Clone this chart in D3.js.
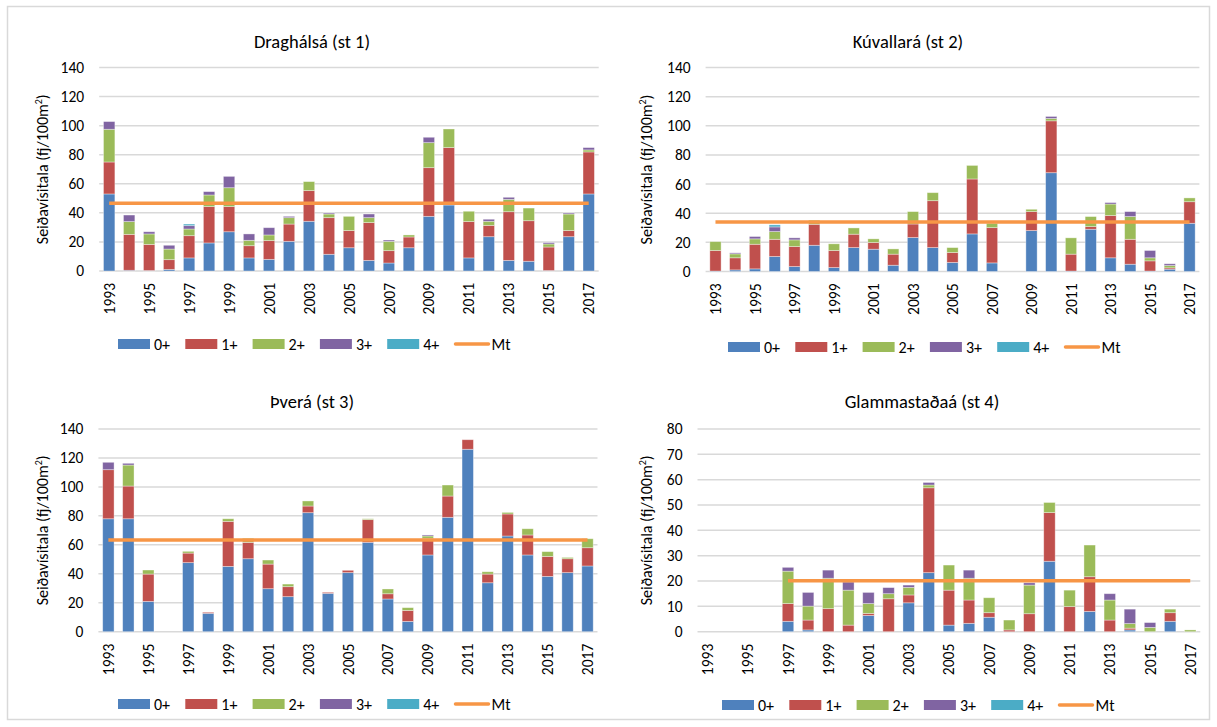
<!DOCTYPE html>
<html><head><meta charset="utf-8">
<script src="https://cdn.jsdelivr.net/npm/d3@7"></script>
<style>
body{margin:0;background:#fff}
svg{display:block}
text{font-family:Carlito, Lato, sans-serif;fill:#000;font-weight:400}
</style>
</head><body>
<svg id="c" width="1217" height="727"></svg>
<script>
// ---------- DATA ----------
const years = ["1993","1994","1995","1996","1997","1998","1999","2000","2001","2002","2003","2004","2005","2006","2007","2008","2009","2010","2011","2012","2013","2014","2015","2016","2017"];
const tickYears = ["1993","1995","1997","1999","2001","2003","2005","2007","2009","2011","2013","2015","2017"];
const ageClasses = ["0+","1+","2+","3+","4+"];
const mtName = "Mt";

// Station 1: Draghálsá
const st1_a0 = [53,0.5,0.3,1.1,9,19.3,27,9,8,20.4,34.2,11.5,16,7.3,5.5,16,37.6,45.4,9,23.6,7.3,6.7,0.3,23.6,53];
const st1_a1 = [22,24.7,18,6.7,15.3,25,17.3,8.4,12.9,11.9,21.1,25.2,11.8,26,8.5,7.4,33.5,39.5,25,7.8,33.5,27.9,16.2,4.2,28.9];
const st1_a2 = [22.5,8.8,7.2,7.3,4.6,8,13,3.7,3.9,4.4,6.2,2.5,9.8,3.4,6.4,1.4,17.2,12.8,7.1,2.8,8.5,8.7,2.1,11.4,1.4];
const st1_a3 = [5.3,4.5,1.5,2.6,2.3,2.3,7.8,4.4,5,0.9,0,0.7,0,2.5,0.9,0,3.7,0,0,1.4,1.4,0,0.9,0.7,1.6];
const st1_a4 = [0,0,0,0,1.1,0,0,0,0,0,0,0,0,0,0,0,0,0,0,0,0,0,0,0,0];
const st1_mt = [46.6,46.6,46.6,46.6,46.6,46.6,46.6,46.6,46.6,46.6,46.6,46.6,46.6,46.6,46.6,46.6,46.6,46.6,46.6,46.6,46.6,46.6,46.6,46.6,46.6];

// Station 2: Kúvallará
const st2_a0 = [0.3,1.1,1.8,10.3,3.4,18,2.7,16.4,15.3,4.3,23.3,16.4,6.2,25.8,5.9,null,28.1,67.8,0.3,29,9.4,5,0.3,1.6,33.1];
const st2_a1 = [14.1,8.3,16.9,11.8,13.7,14.4,11.7,9.2,4.6,7.6,9.3,32.2,6.8,37.7,24.2,null,13,35.6,11.6,1.8,29,17.1,7,0.9,14.8];
const st2_a2 = [6.1,2.7,3.7,5.3,4.6,2.8,4.6,4.3,2.5,3.6,8.5,5.5,3.4,9.3,3,null,1.6,1.6,11.2,6.9,7.9,15.6,2.1,1.6,2.6];
const st2_a3 = [0,0.7,1.6,3.2,1.4,0,0,0,0,0,0,0,0,0,0,null,0,1.4,0,0,1,3.4,5,1.2,0];
const st2_a4 = [0,0,0,1.4,0,0,0,0,0,0,0,0,0,0,0,null,0,0,0,0,0,0,0,0,0];
const st2_mt = [34,34,34,34,34,34,34,34,34,34,34,34,34,34,34,34,34,34,34,34,34,34,34,34,34];

// Station 3: Þverá
const st3_a0 = [78,78,20.9,null,47.7,12.7,45.1,50.4,29.7,24.2,82.2,26.5,40.8,61.7,22.6,7.1,53,79,126,33.8,66.1,53,38.2,40.8,45.4];
const st3_a1 = [33.9,22.6,18.9,null,6.6,0.7,31.1,11.3,17,6.9,4.6,0.7,1.6,15.7,3.6,7.6,11.5,14.7,6.6,6,15.2,13.8,13.8,9.6,12.6];
const st3_a2 = [0,14.5,2.8,null,1.2,0,1.8,2.8,2.8,1.8,3.5,0,0,0.6,3.3,1.9,1.6,7.6,0,1.6,1.1,4.3,3.3,0.9,6.2];
const st3_a3 = [5.1,1.2,0,null,0,0,0,0,0,0,0,0,0,0,0,0,0.7,0,0,0,0,0,0,0,0];
const st3_a4 = [0,0,0,null,0,0,0,0,0,0,0,0,0,0,0,0,0,0,0,0,0,0,0,0,0];
const st3_mt = [63.3,63.3,63.3,63.3,63.3,63.3,63.3,63.3,63.3,63.3,63.3,63.3,63.3,63.3,63.3,63.3,63.3,63.3,63.3,63.3,63.3,63.3,63.3,63.3,63.3];

// Station 4: Glammastaðaá
const st4_a0 = [null,null,null,null,4.1,0.7,0,0,6.4,0,11.4,23.3,2.6,3.3,5.7,0,0,27.8,0,8,0,0.7,0,4.1,0];
const st4_a1 = [null,null,null,null,7,3.9,9.1,2.6,0.8,13,3.1,33.5,13.8,9.2,1.8,0.7,7.1,19.2,9.9,13.7,4.6,0.7,0,3.4,0];
const st4_a2 = [null,null,null,null,12.8,5.5,12,13.8,3.9,2,3,1.1,9.9,8.6,5.9,3.9,11.3,4,6.5,12.5,7.9,1.8,1.7,1.4,0.7];
const st4_a3 = [null,null,null,null,1.5,5.4,3.2,3.2,4.4,2.4,0.9,1,0,3.2,0,0,0.9,0,0,0,2.5,5.7,1.9,0,0];
const st4_a4 = [null,null,null,null,0,0,0,0,0,0,0,0,0,0,0,0,0,0,0,0,0,0,0,0,0];
const st4_mt = [null,null,null,null,20.1,20.1,20.1,20.1,20.1,20.1,20.1,20.1,20.1,20.1,20.1,20.1,20.1,20.1,20.1,20.1,20.1,20.1,20.1,20.1,20.1];

const titles = ["Draghálsá (st 1)","Kúvallará (st 2)","Þverá (st 3)","Glammastaðaá (st 4)"];
const yMaxes = [140,140,140,80];
const yStepsList = [[0,20,40,60,80,100,120,140],[0,20,40,60,80,100,120,140],[0,20,40,60,80,100,120,140],[0,10,20,30,40,50,60,70,80]];

// ---------- STYLE / LAYOUT ----------
const colors = ["#4F81BD","#C0504D","#9BBB59","#8064A2","#4BACC6"];
const mtColor = "#F79646";
const gridColor = "#d9d9d9";

const stations = [
  {a:[st1_a0,st1_a1,st1_a2,st1_a3,st1_a4], mt:st1_mt},
  {a:[st2_a0,st2_a1,st2_a2,st2_a3,st2_a4], mt:st2_mt},
  {a:[st3_a0,st3_a1,st3_a2,st3_a3,st3_a4], mt:st3_mt},
  {a:[st4_a0,st4_a1,st4_a2,st4_a3,st4_a4], mt:st4_mt}
];
const layout = [
  {titleX:312, titleY:48, x0:99.2, x1:598.7, yB:271, yT:67.5, yLabX:48, legX:118, legY:344},
  {titleX:908, titleY:48, x0:705.6, x1:1199.4, yB:271.5, yT:67.5, yLabX:652, legX:728, legY:347},
  {titleX:312, titleY:408, x0:98.4, x1:597.5, yB:631.7, yT:429, yLabX:48, legX:118, legY:704},
  {titleX:922, titleY:408, x0:697.5, x1:1200.3, yB:631.7, yT:429, yLabX:652, legX:722, legY:705}
];

const svg = d3.select("#c");
svg.append("rect").attr("x",7.5).attr("y",6.5).attr("width",1202).attr("height",713)
  .attr("fill","none").attr("stroke",gridColor).attr("stroke-width",1.5);

stations.forEach((st, si) => {
  const L = layout[si];
  const g = svg.append("g");
  const pad = 0.43;
  const x = d3.scaleBand().domain(years).range([L.x0, L.x1]).paddingInner(pad).paddingOuter(pad/2);
  const y = d3.scaleLinear().domain([0, yMaxes[si]]).range([L.yB, L.yT]);

  // gridlines
  g.selectAll("line.grid").data(yStepsList[si]).join("line")
    .attr("x1", L.x0).attr("x2", L.x1)
    .attr("y1", d => y(d)).attr("y2", d => y(d))
    .attr("stroke", gridColor).attr("stroke-width", 1.5);

  // y axis labels
  const yAxis = d3.axisLeft(y).tickValues(yStepsList[si]).tickSize(0).tickPadding(15);
  const ya = g.append("g").attr("transform", `translate(${L.x0},0)`).call(yAxis);
  ya.select(".domain").remove();
  ya.selectAll("text").attr("font-size", 15.5).attr("fill","#000").attr("font-family","Carlito, Lato, sans-serif");

  // stacked data
  const rows = years.map((yr, i) => {
    const o = {year: yr};
    ageClasses.forEach((k, j) => o[k] = st.a[j][i] == null ? 0 : st.a[j][i]);
    return o;
  });
  const stack = d3.stack().keys(ageClasses)(rows);
  g.selectAll("g.series").data(stack).join("g")
    .attr("fill", (d, j) => colors[j])
    .selectAll("rect").data(d => d.filter(p => p[1] - p[0] > 0)).join("rect")
    .attr("x", p => x(p.data.year))
    .attr("width", x.bandwidth())
    .attr("y", p => y(p[1]))
    .attr("height", p => y(p[0]) - y(p[1]))
    .attr("stroke", "#ffffff").attr("stroke-opacity", 0.45).attr("stroke-width", 0.8);

  // mean line
  const line = d3.line()
    .defined(d => d.v != null)
    .x(d => x(d.year) + x.bandwidth()/2)
    .y(d => y(d.v));
  g.append("path").datum(years.map((yr, i) => ({year: yr, v: st.mt[i]})))
    .attr("d", line).attr("fill","none").attr("stroke", mtColor).attr("stroke-width", 3.5);

  // x axis labels
  const xa = g.append("g").attr("transform", `translate(0,${L.yB})`)
    .call(d3.axisBottom(x).tickValues(tickYears).tickSize(0).tickPadding(0));
  xa.select(".domain").remove();
  xa.selectAll("text")
    .attr("font-size", 15.5).attr("fill","#000").attr("font-family","Carlito, Lato, sans-serif")
    .attr("text-anchor","end")
    .attr("transform","translate(0,12) rotate(-90)")
    .attr("x",0).attr("y",0).attr("dy","0.36em");

  // title
  g.append("text").attr("x", L.titleX).attr("y", L.titleY).attr("text-anchor","middle")
    .attr("font-size", 18.5).text(titles[si]);

  // y axis title
  const yt = g.append("text")
    .attr("transform", `translate(${L.yLabX},${(L.yB + L.yT)/2}) rotate(-90)`)
    .attr("text-anchor","middle").attr("font-size", 16);
  yt.append("tspan").text("Seiðavísitala (fj/100m");
  yt.append("tspan").attr("font-size", 10).attr("dy", -6).text("2");
  yt.append("tspan").attr("dy", 6).text(")");

  // legend
  const lg = g.append("g").attr("transform", `translate(${L.legX},${L.legY})`);
  ageClasses.forEach((k, j) => {
    const it = lg.append("g").attr("transform", `translate(${j*67.3},0)`);
    it.append("rect").attr("x",0).attr("y",-5).attr("width",32).attr("height",10).attr("fill",colors[j]);
    it.append("text").attr("x",36).attr("y",0).attr("dy","0.35em").attr("font-size",16).text(k);
  });
  const mi = lg.append("g").attr("transform", `translate(${5*67.3},0)`);
  mi.append("line").attr("x1",1).attr("x2",34).attr("y1",0).attr("y2",0)
    .attr("stroke",mtColor).attr("stroke-width",3.5).attr("stroke-linecap","round");
  mi.append("text").attr("x",37).attr("y",0).attr("dy","0.35em").attr("font-size",16).text(mtName);
});
</script>
</body></html>
